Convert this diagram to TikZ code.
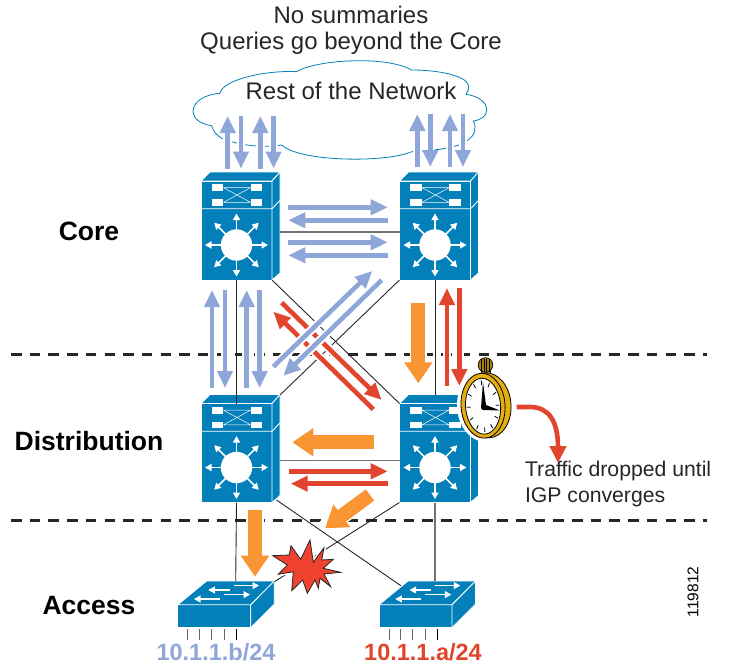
\documentclass[tikz,border=0pt]{standalone}
\usepackage{fontspec}
\setmainfont{Liberation Sans}
\usepackage{tikz}
\usetikzlibrary{positioning,arrows.meta}

\definecolor{swblue}{HTML}{0380BA}
\definecolor{arrowblue}{HTML}{8FA6D9}
\definecolor{arrowred}{HTML}{E2452D}
\definecolor{arroworange}{HTML}{F99533}
\definecolor{clockgold}{HTML}{E3AE12}
\definecolor{burstred}{HTML}{F0432F}

\tikzset{
    l3box/.style = {draw=white, fill=swblue, line width=0.8pt, minimum width=71pt, minimum height=99pt, inner sep=0pt, outer sep=0pt},
    accessbox/.style = {draw=white, fill=swblue, line width=0.8pt, minimum width=73pt, minimum height=23pt, inner sep=0pt, outer sep=0pt},
    halo/.style = {preaction={draw=white, arrows=-, line width=#1}},
    bluearrow/.style = {halo=8.5pt, draw=arrowblue, line width=4.6pt, -{Triangle[length=17pt,width=15pt]}},
    redarrow/.style = {halo=8.5pt, draw=arrowred, line width=4.6pt, -{Triangle[length=17pt,width=15pt]}},
    orangearrow/.style = {halo=17pt, draw=arroworange, line width=14pt, -{Triangle[length=21pt,width=27pt]}},
    link/.style = {draw=black!85, line width=0.9pt},
    greylink/.style = {draw=black!55, line width=1.2pt},
    boundary/.style = {draw=black!85, line width=3pt, dash pattern=on 10.5pt off 8.2pt},
    label/.style = {font=\fontsize{24}{26}\selectfont, text=black!85},
    sidelabel/.style = {font=\fontsize{21.2}{26}\selectfont, text=black!85},
    layer/.style = {font=\fontsize{26.5}{28}\selectfont\bfseries, text=black},
    subnet/.style = {font=\fontsize{23.5}{25}\selectfont\bfseries},
    whiteicon/.style = {draw=white, line width=1.6pt, -{Triangle[length=6.5pt,width=7pt]}},
    pics/l3icons/.style = {code={
        \fill[swblue, draw=white, line width=0.8pt] (-35.5,-49.5) -- (-26.5,-58.5) -- (43.5,-58.5) -- (35.5,-49.5) -- cycle;
        \fill[swblue, draw=white, line width=0.8pt] (35.5,-49.5) -- (43.5,-58.5) -- (43.5,42.5) -- (35.5,49.5) -- cycle;
        \draw[white, line width=0.9pt] (-35.5,-21.8) -- (35.5,-21.8) -- (43.5,-30);
        \draw[white, line width=0.5pt] (-13,-42.8) -- (14,-42.8) (-13,-28.2) -- (14,-28.2) (-13,-42.8) -- (14,-28.2) (-13,-28.2) -- (14,-42.8);
        \foreach \bx in {-24.8,14.2} \foreach \by in {-46.2,-31.5} \fill[white] (\bx,\by) rectangle ++(11.6,6.7);
        \fill[white] (0,14.5) circle (15.7);
        \foreach \a in {0,45,...,315} \draw[whiteicon] ({15*cos(\a)},{14.5+15*sin(\a)}) -- ({31.5*cos(\a)},{14.5+31.5*sin(\a)});
    }},
    pics/accessicons/.style = {code={
        \fill[swblue, draw=white, line width=0.8pt] (-36.5,-11.5) -- (-7.5,-35.3) -- (60.1,-35.3) -- (36.5,-11.5) -- cycle;
        \fill[swblue, draw=white, line width=0.8pt] (36.5,-11.5) -- (60.1,-35.3) -- (60.1,-12.3) -- (36.5,11.5) -- cycle;
        \draw[whiteicon, line width=1.1pt] (15.8,-26.3) -- (-5.9,-26.3);
        \draw[whiteicon, line width=1.1pt] (19.8,-30.7) -- (44.8,-30.7);
        \draw[whiteicon, line width=1.1pt] (5.8,-17.3) -- (-20.2,-17.3);
        \draw[whiteicon, line width=1.1pt] (9.8,-21.7) -- (35.8,-21.7);
        \foreach \px in {-26.5,-14.7,-2.7,9.8} \draw[black!60, line width=0.9pt] (\px,12.7) -- (\px,23.7);
        \draw[black, line width=0.9pt] (22.3,12.7) -- (22.3,23.7);
    }},
}

\begin{document}
\begin{tikzpicture}[x=1pt, y=-1pt, node distance={15mm}]
            \useasboundingbox (0,0) rectangle (737,667);
            % Boundaries
            \coordinate (upperleft) at (11,354);
            \coordinate (upperright) at (707,354);
            \coordinate (lowerleft) at (11,520.7);
            \coordinate (lowerright) at (707,520.7);
            \draw[boundary] (upperleft) -- (upperright);
            \draw[boundary] (lowerleft) -- (lowerright);
            % Cloud
            \node[label] (cloud) at (351,91) {Rest of the Network};
            \draw[swblue, line width=0.8pt] (221.7,138.3) .. controls (217,136) and (213,131) .. (211.7,125.7)
                .. controls (200,124) and (193,118) .. (193,111.7)
                .. controls (193,100) and (208,94) .. (220,93.3)
                .. controls (222,80) and (265,70) .. (296.7,71.7)
                .. controls (315,60) and (385,55) .. (411.7,70)
                .. controls (440,70) and (466,76) .. (468.3,85)
                .. controls (469,89) and (468,92) .. (466,94.3)
                .. controls (478,96) and (486.7,102) .. (486.7,110)
                .. controls (486.7,116) and (481,120) .. (473.3,121)
                .. controls (477,128) and (475,135) .. (468,140)
                .. controls (455,150) and (430,150) .. (411.7,151.7)
                .. controls (385,163) and (300,162) .. (281.7,145)
                .. controls (265,148) and (240,146) .. cycle;
            % Nodes
            \node[l3box] (core1) at (236.5,230.5) {};
            \node[l3box] (core2) [right=127.5pt of core1] {};
            \node[l3box] (dist1) [below=123.5pt of core1] {};
            \node[l3box] (dist2) [right=127.5pt of dist1] {};
            \node[accessbox] (access1) at (214.2,616.3) {};
            \node[accessbox] (access2) [right=128.3pt of access1] {};
            \foreach \sw in {core1,core2,dist1,dist2} \pic at (\sw.center) {l3icons};
            \foreach \sw in {access1,access2} \pic at (\sw.center) {accessicons};
            \node[layer] (corelabel) at (89,231) {Core};
            \node[layer] (distlabel) at (89,441) {Distribution};
            \node[layer] (accesslabel) at (89,606) {Access};
            \node[subnet, text=arrowblue] (subnetb) at (216,652) {10.1.1.b/24};
            \node[subnet, text=arrowred] (subneta) at (423,652) {10.1.1.a/24};
            \node[label, align=center] (title) at (351,30) {No summaries\\Queries go beyond the Core};
            \node[sidelabel, align=left, anchor=north west] (dropped) at (521.5,458) {Traffic dropped until\\IGP converges};
            \node[font=\fontsize{15.5}{17}\selectfont, rotate=90] (figno) at (693,592) {119812};
            \coordinate (acc1top) at ([xshift=21.5pt,yshift=24pt]access1.north);
            \coordinate (acc2top) at ([xshift=19.5pt,yshift=24pt]access2.north);
            \coordinate (acc1corner) at ([xshift=60.1pt,yshift=23pt]access1.north);
            \coordinate (acc2corner) at ([xshift=-14.5pt,yshift=19pt]access2.north);
            % Edges
            \draw[link] (core1.south) -- (dist1.north);
            \draw[link] (core2.south) -- ([yshift=8.5pt]dist2.north);
            \draw[link] (core1.south east) -- (dist2.north west);
            \draw[link] (core2.south west) -- ([xshift=8pt,yshift=8.5pt]dist1.north east);
            \draw[greylink] ([shift={(43.5,1.5)}]core1.center) -- ([yshift=-1.5pt]core2.west);
            \draw[greylink] ([shift={(43.5,7.3)}]dist1.center) -- ([yshift=-7.3pt]dist2.west);
            \draw[link] (dist1.south) -- (acc1top);
            \draw[greylink] (dist2.south) -- (acc2top);
            \draw[link] ([shift={(40,47)}]dist1.center) -- (acc2corner);
            \draw[link] (dist2.south west) -- (acc1corner);
            % Arrows to the cloud
            \foreach \dx in {-8.8,23.8} {
                \draw[bluearrow] ([shift={(\dx,-62)}]core1.center) -- ([shift={(\dx,-114.5)}]core1.center);
                \draw[bluearrow] ([shift={(\dx+13.3,-114.5)}]core1.center) -- ([shift={(\dx+13.3,-62)}]core1.center);
            }
            \foreach \dx in {-17.7,15} {
                \draw[bluearrow] ([shift={(\dx,-63.5)}]core2.center) -- ([shift={(\dx,-116.5)}]core2.center);
                \draw[bluearrow] ([shift={(\dx+13,-116.5)}]core2.center) -- ([shift={(\dx+13,-63.5)}]core2.center);
            }
            % Arrows between the core switches
            \foreach \dy in {-23.2,11.8} {
                \draw[bluearrow] ([shift={(51.8,\dy)}]core1.center) -- ([shift={(-47.3,\dy)}]core2.center);
                \draw[bluearrow] ([shift={(-47.3,\dy+13)}]core2.center) -- ([shift={(51.8,\dy+13)}]core1.center);
            }
            % Arrows from core to distribution
            \foreach \dx in {-24.5,10.2} {
                \draw[bluearrow] ([shift={(\dx,-65)}]dist1.center) -- ([shift={(\dx,59.5)}]core1.center);
                \draw[bluearrow] ([shift={(\dx+13,59.5)}]core1.center) -- ([shift={(\dx+13,-65)}]dist1.center);
            }
            \draw[orangearrow] ([shift={(-16.7,72.2)}]core2.center) -- ([shift={(-16.7,-69.7)}]dist2.center);
            \draw[redarrow] ([shift={(12,-67)}]dist2.center) -- ([shift={(12,57.5)}]core2.center);
            \draw[redarrow] ([shift={(24.3,57.5)}]core2.center) -- ([shift={(24.3,-67)}]dist2.center);
            % Diagonal arrows
            \draw[redarrow] ([shift={(-61.7,-43.7)}]dist2.center) -- ([shift={(36.8,81.2)}]core1.center);
            \draw[redarrow] ([shift={(45.2,72.2)}]core1.center) -- ([shift={(-53.3,-53)}]dist2.center);
            \draw[bluearrow] ([shift={(36.8,-86.3)}]dist1.center) -- ([shift={(-62.7,40.5)}]core2.center);
            \draw[bluearrow] ([shift={(-53.3,49.5)}]core2.center) -- ([shift={(46.8,-77.3)}]dist1.center);
            % Arrows between the distribution switches
            \draw[orangearrow] ([shift={(-61.3,-10.7)}]dist2.center) -- ([shift={(55.8,-10.7)}]dist1.center);
            \draw[redarrow] ([shift={(52.8,18.3)}]dist1.center) -- ([shift={(-47.3,18.3)}]dist2.center);
            \draw[redarrow] ([shift={(-47,30.7)}]dist2.center) -- ([shift={(54.2,30.7)}]dist1.center);
            % Arrows down to the access layer
            \draw[orangearrow] ([shift={(-65,42)}]dist2.center) -- ([shift={(88.5,75.3)}]dist1.center);
            \draw[orangearrow] ([shift={(18.5,57)}]dist1.center) -- ([shift={(40.8,-39.6)}]access1.center);
            % Failure
            \draw[fill=burstred, draw=black!85, line width=0.8pt, preaction={draw=white, line width=4pt}]
                (272.7,555.7) -- (289.3,555) -- (291,545.7) -- (300.7,559.3) -- (310,540) -- (313.3,562.3) -- (324,547.7)
                -- (321.7,560) -- (333.3,559.3) -- (323.3,568.3) -- (340.7,572.3) -- (324,574) -- (330.7,586.7) -- (320,578.3)
                -- (318.3,588.3) -- (315,580) -- (307.3,593.3) -- (302.7,580) -- (291.7,590.7) -- (293.3,571.7) -- (278.3,574.3) -- (287.3,565) -- cycle;
            % Stopwatch
            \fill[white] (486,405) ellipse (29 and 37);
            \fill[clockgold, draw=black, line width=0.7pt] (481,370) rectangle (490,376);
            \draw[fill=clockgold!75!black, draw=black, line width=0.7pt] (485.5,365) circle (7.3);
            \foreach \cx in {481.5,484,486.5,489} \draw[black, line width=0.7pt] (\cx,358.5) -- (\cx,371.5);
            \begin{scope}[rotate around={4:(486,405)}]
                \draw[fill=clockgold, draw=black, line width=0.8pt] (487.5,405.5) ellipse (23.5 and 32.5);
                \draw[fill=clockgold, draw=black, line width=0.8pt] (483,405.5) ellipse (22 and 32.5);
                \draw[fill=white, draw=black, line width=0.8pt] (483,406) ellipse (17.5 and 28);
                \foreach \a in {0,30,...,330} \draw[black, line width=0.8pt] ({483+16*cos(\a)},{406+26*sin(\a)}) -- ({483+12.5*cos(\a)},{406+21.5*sin(\a)});
            \end{scope}
            \fill[black] (481,408) -- (483,382) -- (486,405) -- (500,410.5) -- (483,410) -- cycle;
            \coordinate (clockright) at (516.7,407);
            \draw[draw=arrowred, line width=4.6pt, -{Triangle[length=17pt,width=16pt]}] (clockright) -- (530,407) .. controls (548,407) and (558,420) .. ([xshift=36.5pt,yshift=-5pt]dropped.north west);
\end{tikzpicture}
\end{document}
